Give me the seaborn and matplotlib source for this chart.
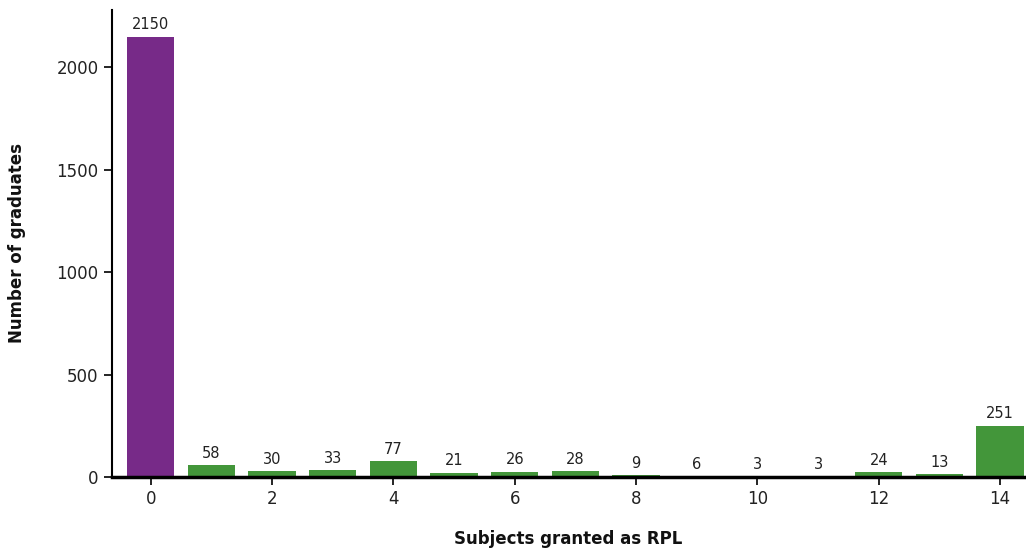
import matplotlib
matplotlib.use("Agg")
import matplotlib.pyplot as plt
import seaborn as sns
import pandas as pd

subjects = list(range(15))
graduates = [2150, 58, 30, 33, 77, 21, 26, 28, 9, 6, 3, 3, 24, 13, 251]
bar_colors = ["#772a88"] + ["#43963a"] * 14
x_label = "Subjects granted as RPL"
y_label = "Number of graduates"

sns.set_theme(style="ticks")
plt.rcParams["font.family"] = ["DejaVu Sans"]

df = pd.DataFrame({"subjects": subjects, "graduates": graduates})

fig = plt.figure(figsize=(10.26, 5.52), dpi=100)
ax = fig.add_axes([0.109, 0.136, 0.89, 0.846])

sns.barplot(data=df, x="subjects", y="graduates", hue="subjects",
            palette=bar_colors, order=subjects, hue_order=subjects,
            width=0.78, legend=False, ax=ax, saturation=1, edgecolor="none")

for cont in ax.containers:
    ax.bar_label(cont, labels=[f"{v:.0f}" for v in cont.datavalues],
                 padding=3, fontsize=10.5, color="#222222")

ax.set_xlim(-0.64, 14.41)
ax.set_ylim(0, 2280)
ax.set_yticks([0, 500, 1000, 1500, 2000])
ax.set_xticks(range(0, 15, 2))
ax.set_xticklabels([str(i) for i in range(0, 15, 2)])
ax.tick_params(axis="both", labelsize=12, length=6, width=1.2, color="black", labelcolor="#222222")
ax.set_xlabel(x_label, fontsize=12, fontweight="bold", labelpad=16, color="#111111")
ax.set_ylabel(y_label, fontsize=12, fontweight="bold", labelpad=22, color="#111111")
sns.despine(ax=ax)
ax.spines["left"].set_linewidth(1.5)
ax.spines["bottom"].set_linewidth(2.5)
ax.spines["left"].set_color("black")
ax.spines["bottom"].set_color("black")

fig.savefig("out.png", dpi=100)
